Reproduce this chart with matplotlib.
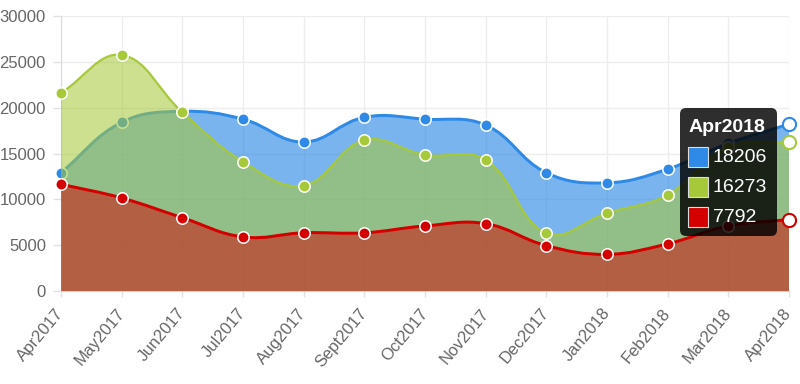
import matplotlib
matplotlib.use('Agg')
import matplotlib.pyplot as plt
import numpy as np
from matplotlib.path import Path
from matplotlib.patches import PathPatch, FancyBboxPatch, Rectangle

months = ['Apr2017', 'May2017', 'Jun2017', 'Jul2017', 'Aug2017', 'Sept2017',
          'Oct2017', 'Nov2017', 'Dec2017', 'Jan2018', 'Feb2018', 'Mar2018',
          'Apr2018']
blue_vals = [12900, 18400, 19600, 18750, 16250, 18950, 18750, 18100, 12900,
             11800, 13300, 16100, 18206]
green_vals = [21600, 25750, 19500, 14100, 11500, 16450, 14850, 14300, 6300,
              8500, 10500, 15700, 16273]
red_vals = [11650, 10150, 8000, 5900, 6350, 6350, 7100, 7350, 4950, 4000,
            5150, 7100, 7792]
y_ticks = [0, 5000, 10000, 15000, 20000, 25000, 30000]

W, H = 800, 384
LEFT, RIGHT, TOP, BOTTOM = 61, 789, 16, 291
YMAX = 30000

# (line colour, fill rgba, line width in px)
styles = [
    ('#2e8ae6', (46/255, 138/255, 230/255, 0.64), 3.0),
    ('#a6c93a', (166/255, 201/255, 58/255, 0.57), 2.2),
    ('#d40000', (212/255, 0, 0, 0.5), 3.0),
]


def spline_path(vals, tension=0.4):
    # bezier control points like chart.js, computed in pixel space
    n = len(vals)
    sx = (RIGHT - LEFT) / (n - 1)
    sy = (BOTTOM - TOP) / YMAX
    pts = np.array([[i * sx, v * sy] for i, v in enumerate(vals)])
    prev_cp, next_cp = [], []
    for i in range(n):
        p0 = pts[max(i - 1, 0)]
        p1 = pts[i]
        p2 = pts[min(i + 1, n - 1)]
        d01 = np.hypot(*(p1 - p0))
        d12 = np.hypot(*(p2 - p1))
        tot = d01 + d12
        s01 = d01 / tot if tot else 0
        s12 = d12 / tot if tot else 0
        c_prev = p1 - tension * s01 * (p2 - p0)
        c_next = p1 + tension * s12 * (p2 - p0)
        for c in (c_prev, c_next):
            c[1] = min(max(c[1], 0), YMAX * sy)
        prev_cp.append(c_prev)
        next_cp.append(c_next)
    verts = [pts[0]]
    codes = [Path.MOVETO]
    for i in range(n - 1):
        verts += [next_cp[i], prev_cp[i + 1], pts[i + 1]]
        codes += [Path.CURVE4] * 3
    verts = np.array(verts)
    verts[:, 0] /= sx
    verts[:, 1] /= sy
    return verts, codes


fig = plt.figure(figsize=(W / 100, H / 100), dpi=100)
ax = fig.add_axes([LEFT / W, 1 - BOTTOM / H, (RIGHT - LEFT) / W,
                   (BOTTOM - TOP) / H])
x = np.arange(len(months))
ax.set_xlim(0, len(months) - 1)
ax.set_ylim(0, YMAX)

for k, vals in enumerate([blue_vals, green_vals, red_vals]):
    lc, fc, lw = styles[k]
    z = 2 + k * 3
    verts, codes = spline_path(vals)
    fverts = np.vstack([verts, [[len(vals) - 1, 0], [0, 0], [0, 0]]])
    fcodes = codes + [Path.LINETO, Path.LINETO, Path.CLOSEPOLY]
    ax.add_patch(PathPatch(Path(fverts, fcodes), facecolor=fc,
                           edgecolor='none', zorder=z))
    ax.add_patch(PathPatch(Path(verts, codes), facecolor='none',
                           edgecolor=lc, lw=lw * 0.72, zorder=z + 1,
                           capstyle='round', joinstyle='round'))
    ax.plot(x[:-1], vals[:-1], 'o', ms=8.2, mfc=lc, mec='white', mew=1.1,
            zorder=z + 2, clip_on=False)
    ax.plot(x[-1:], vals[-1:], 'o', ms=9.5, mfc='white', mec=lc, mew=1.5,
            zorder=z + 2, clip_on=False)

ax.set_xticks(x)
ax.set_xticklabels(months, rotation=50, ha='right', va='center',
                   rotation_mode='anchor')
ax.set_yticks(y_ticks)
ax.set_yticklabels([str(t) for t in y_ticks])
ax.tick_params(axis='both', colors='#e2e2e2', labelcolor='#666666',
               labelsize=12, width=1)
ax.tick_params(axis='y', length=5.8, pad=5)
ax.tick_params(axis='x', length=4.5, pad=9.5)
for lab in ax.get_xticklabels() + ax.get_yticklabels():
    lab.set_fontfamily('Liberation Sans')
ax.grid(True, color='#ededed', lw=1, zorder=0)
for s in ['top', 'right']:
    ax.spines[s].set_visible(False)
ax.spines['left'].set_color('#dadada')
ax.spines['bottom'].set_color('#d0d0d0')
ax.set_axisbelow(True)

# tooltip overlay in pixel coordinates
ov = fig.add_axes([0, 0, 1, 1])
ov.set_xlim(0, W)
ov.set_ylim(H, 0)
ov.axis('off')
ov.add_patch(FancyBboxPatch((680, 108), 97, 128,
                            boxstyle='round,pad=0,rounding_size=6',
                            facecolor=(0, 0, 0, 0.82), edgecolor='none'))
ov.text(689, 127, months[-1], color='white', fontsize=14, fontweight='bold',
        family='Liberation Sans', va='center', ha='left')
last = [blue_vals[-1], green_vals[-1], red_vals[-1]]
for k, v in enumerate(last):
    yc = 157 + k * 30
    ov.add_patch(Rectangle((688, yc - 10), 20, 20, facecolor=styles[k][0],
                           edgecolor='#dddddd', lw=0.8))
    ov.text(713, yc + 1, str(v), color='white', fontsize=14,
            family='Liberation Sans', va='center', ha='left')

fig.savefig('out.png', dpi=100)
